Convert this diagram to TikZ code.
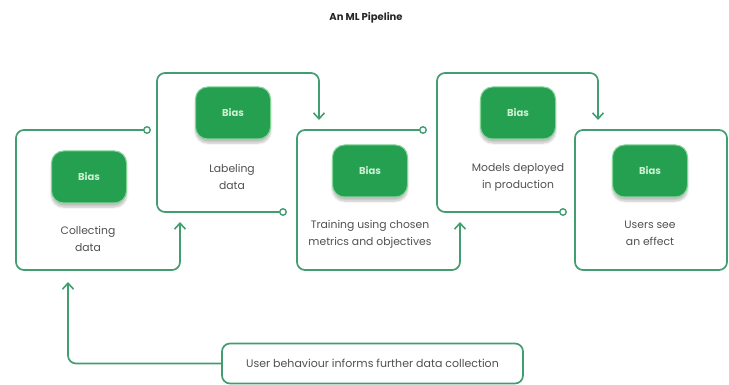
\documentclass[tikz,border=0pt]{standalone}
\usepackage{fontspec}
\setmainfont{Poppins}
\usetikzlibrary{arrows.meta,shadows.blur}
\definecolor{linegreen}{RGB}{66,158,112}
\definecolor{pillgreen}{RGB}{36,160,80}
\definecolor{pillrim}{RGB}{130,212,150}
\definecolor{pilltext}{RGB}{205,240,210}
\definecolor{txtgray}{RGB}{80,80,80}
\tikzset{
  flow/.style={draw=linegreen, line width=1.7pt, rounded corners=8pt},
  head/.style={-{Straight Barb[length=6pt,width=11pt,line width=1.6pt]}},
  endpt/.style={circle, draw=linegreen, fill=white, line width=1.4pt, inner sep=0pt, minimum size=6.5pt},
  pill/.style={rounded corners=12pt, fill=pillgreen, draw=pillrim, line width=1pt,
    minimum width=75pt, minimum height=52pt, text=pilltext, font=\fontsize{10}{12}\selectfont\bfseries,
    blur shadow={shadow xshift=0pt, shadow yshift=-4pt, shadow blur steps=6, shadow opacity=25}},
  lbl/.style={align=center, text=txtgray, font=\fontsize{10.8}{17}\selectfont}
}
\begin{document}
\begin{tikzpicture}[x=1pt,y=-1pt]
\useasboundingbox (0,0) rectangle (729,385);
\node[font=\fontsize{10}{12}\selectfont\bfseries, text=black!85] (title) at (366,18) {An ML Pipeline};
% coordinates of the paths
\coordinate (c1) at (147,130); \coordinate (a1) at (180,222);
\coordinate (c2) at (283,212); \coordinate (a2) at (319,120);
\coordinate (c3) at (423,130); \coordinate (a3) at (460,222);
\coordinate (c4) at (563,212); \coordinate (a4) at (598,120);
\coordinate (a0) at (68,282);
% box outlines
\draw[flow,head] (c1) -- (16,130) -- (16,270) -- (180,270) -- (a1);
\draw[flow,head] (c2) -- (157,212) -- (157,73) -- (319,73) -- (a2);
\draw[flow,head] (c3) -- (297,130) -- (297,270) -- (460,270) -- (a3);
\draw[flow,head] (c4) -- (437,212) -- (437,73) -- (598,73) -- (a4);
\draw[flow] (575,130) rectangle (727,270);
\node[endpt] at (c1) {};
\node[endpt] at (c2) {};
\node[endpt] at (c3) {};
\node[endpt] at (c4) {};
% pills
\node[pill] (p1) at (89,177) {Bias};
\node[pill] (p2) at (233,113) {Bias};
\node[pill] (p3) at (370,171) {Bias};
\node[pill] (p4) at (518,113) {Bias};
\node[pill] (p5) at (650,171) {Bias};
% labels
\node[lbl] (t1) at (88,239) {Collecting\\data};
\node[lbl] (t2) at (232,177) {Labeling\\data};
\node[lbl] (t3) at (370,234) {Training using chosen\\metrics and objectives};
\node[lbl] (t4) at (518,177) {Models deployed\\in production};
\node[lbl] (t5) at (650,233) {Users see\\an effect};
% feedback
\node[draw=linegreen, line width=1.7pt, rounded corners=8pt, minimum width=301pt, minimum height=40pt,
  text=txtgray, font=\fontsize{11}{13}\selectfont] (fb) at (372.5,363.5) {User behaviour informs further data collection};
\draw[flow,head] (fb.west) -- (68,363.5) -- (a0);
\end{tikzpicture}
\end{document}
